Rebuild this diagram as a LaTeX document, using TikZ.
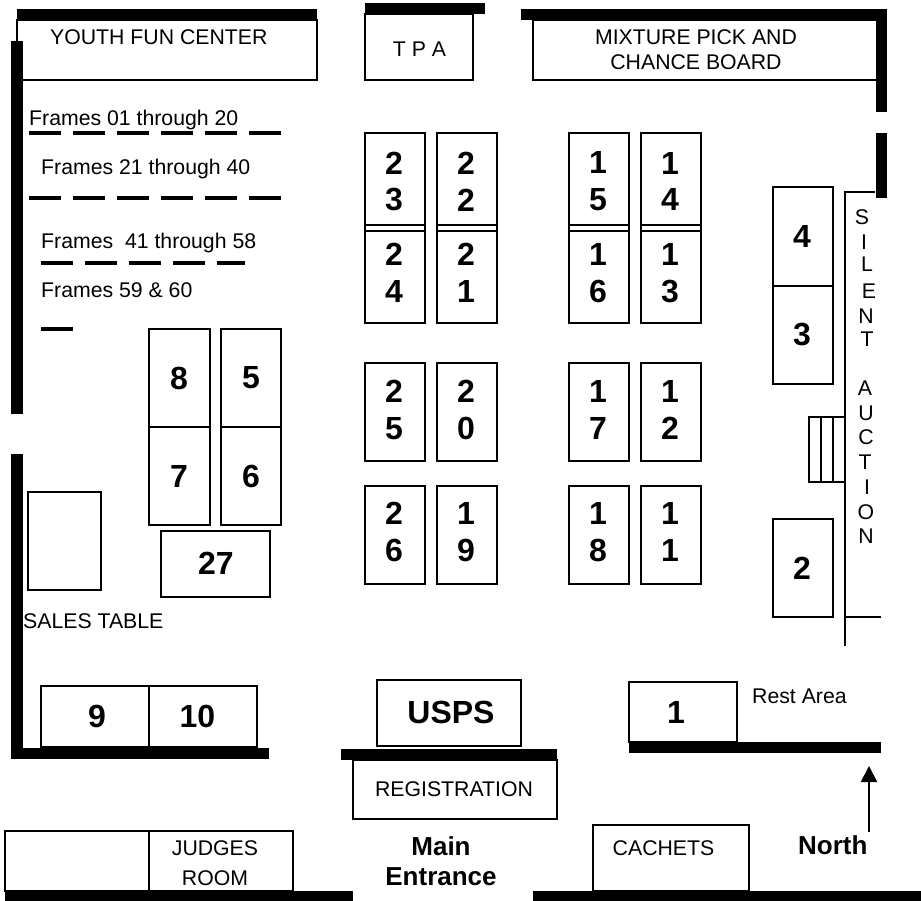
\documentclass[tikz,border=0pt]{standalone}
\usepackage{fontspec}
\setmainfont{Liberation Sans}
\usetikzlibrary{arrows.meta}
\tikzset{
  booth/.style={rectangle, draw, line width=2pt, inner sep=0pt, outer sep=0pt},
  boothtext/.style={inner sep=0pt, align=center, font=\fontsize{32}{36.7}\selectfont\bfseries},
  room/.style={rectangle, draw, line width=1.6pt, inner sep=0pt},
  wall/.style={line width=11pt},
  frameline/.style={line width=4pt},
  tag/.style={inner sep=0pt, font=\fontsize{21.25}{25}\selectfont},
  bigtag/.style={inner sep=0pt, align=center, font=\fontsize{26}{31}\selectfont\bfseries},
}
\begin{document}
\begin{tikzpicture}[x=1pt, y=-1pt]
  \useasboundingbox (0,0) rectangle (921,901);

  % Rooms along the top
  \node[room, minimum width=300, minimum height=60] (youth) at (167,50) {};
  \node[tag, anchor=base west] (youthtext) at (50,45) {YOUTH FUN CENTER};
  \node[room, line width=2pt, minimum width=108, minimum height=66] (tpa) at (419,47) {};
  \node[tag, anchor=base] (tpatext) at (419.5,57) {T P A};
  \node[room, minimum width=348, minimum height=60] (mixture) at (707,50) {};
  \node[tag, anchor=base] (mixtext) at (696,45) {MIXTURE PICK AND};
  \node[tag, anchor=base] (chancetext) at (696,70) {CHANCE BOARD};

  % Frame lines
  \foreach \ya in {133,198}
    \foreach \xa in {29,73,117,161,205,249}
      \draw[frameline] (\xa,\ya) -- +(32,0);
  \foreach \xa/\xb in {41/73,85/117,129/161,173/205,217/245}
    \draw[frameline] (\xa,263) -- (\xb,263);
  \draw[frameline] (41,329) -- (73,329);
  \node[tag, anchor=base west] (frames1) at (29,125.5) {Frames 01 through 20};
  \node[tag, anchor=base west] (frames2) at (41,175) {Frames 21 through 40};
  \node[tag, anchor=base west] (frames3) at (41,249) {Frames\ \ 41 through 58};
  \node[tag, anchor=base west] (frames4) at (41,298) {Frames 59 \& 60};

  % Stacked frame booths
  \foreach \name/\cx/\cy/\hgt in {
      b23/395/179/92, b24/395/277/92, b22/467/179/92, b21/467/277/92,
      b15/599/179/92, b16/599/277/92, b14/671/179/92, b13/671/277/92,
      b25/395/412/98, b26/395/535/98, b20/467/412/98, b19/467/535/98,
      b17/599/412/98, b18/599/535/98, b12/671/412/98, b11/671/535/98}
    \node[booth, minimum width=60, minimum height=\hgt] (\name) at (\cx,\cy) {};
  \foreach \upper/\lower in {b23/b24, b22/b21, b15/b16, b14/b13} {
    \draw[line width=2pt] (\upper.south west) -- (\lower.north west);
    \draw[line width=2pt] (\upper.south east) -- (\lower.north east);
  }
  \foreach \name/\cx/\cy/\txt in {
      t23/394/181.5/2\\3, t24/394/273/2\\4,
      t22/466/181.5/2\\2, t21/466/273/2\\1,
      t15/598/181.5/1\\5, t16/598/273/1\\6,
      t14/670/181.5/1\\4, t13/670/273/1\\3,
      t25/394/410/2\\5, t26/394/532/2\\6,
      t20/466/410/2\\0, t19/466/532/1\\9,
      t17/598/410/1\\7, t18/598/532/1\\8,
      t12/670/410/1\\2, t11/670/532/1\\1}
    \node[boothtext] (\name) at (\cx,\cy) {\txt};

  % Single number booths
  \foreach \name/\cx/\cy/\wid/\hgt in {
      b8/179.5/378/61/98, b7/179.5/476/61/98,
      b5/251/378/60/98, b6/251/476/60/98,
      b27/215.5/564/109/66,
      b4/803/236.5/60/99, b3/803/335/60/98, b2/803/568/60/98,
      b1/683/712/108/60,
      usps/449/713/144/66}
    \node[booth, minimum width=\wid, minimum height=\hgt] (\name) at (\cx,\cy) {};
  \foreach \name/\cx/\cy in {b9/95/716.5, b10/203/716.5}
    \node[booth, line width=1.6pt, minimum width=108, minimum height=61] (\name) at (\cx,\cy) {};
  \foreach \name/\cx/\cy/\txt in {
      t8/179/378/8, t7/179/476/7, t5/251/378/5, t6/251/476/6, t27/216/563/27,
      t4/802/236/4, t3/802/335/3, t2/802/568/2, t1/676/712/1,
      t9/97/716.5/9, t10/197.5/716.5/10, tusps/451/712.5/USPS}
    \node[boothtext] (\name) at (\cx,\cy) {\txt};

  % Side tables and rooms along the bottom
  \node[room, line width=2pt, minimum width=73, minimum height=98] (sales) at (64.5,541) {};
  \node[tag, anchor=base west] (salestext) at (23,628) {SALES TABLE};
  \node[room, line width=2pt, minimum width=204, minimum height=59] (registration) at (455,789.5) {};
  \node[tag, anchor=base] (registrationtext) at (454,796) {REGISTRATION};
  \node[room, minimum width=144, minimum height=60] (spare) at (77,861) {};
  \node[room, minimum width=144, minimum height=60] (judges) at (221,861) {};
  \node[tag, anchor=base] (judgestext1) at (215,855) {JUDGES};
  \node[tag, anchor=base] (judgestext2) at (215,885) {ROOM};
  \node[room, minimum width=156, minimum height=66] (cachets) at (671,858) {};
  \node[tag, anchor=base] (cachetstext) at (663.5,855) {CACHETS};
  \node[tag, anchor=base west] (resttext) at (752,703) {Rest Area};
  \node[bigtag, anchor=base] (maintext) at (441,855) {Main};
  \node[bigtag, anchor=base] (entrancetext) at (441,885.5) {Entrance};
  \node[bigtag, anchor=base west] (northtext) at (798,854) {North};

  % Silent auction
  \draw[line width=2pt] (875,192) -- (845,192) -- (845,646);
  \draw[line width=2pt] (845,617) -- (881,617);
  \draw[line width=2pt] (845,417) -- (809,417) -- (809,482) -- (845,482);
  \draw[line width=2pt] (821,417) -- (821,482);
  \draw[line width=2pt] (833,417) -- (833,482);
  \foreach \cx/\cy/\txt in {862/217/S, 864/242/I, 867/264/L, 869/291/E, 866/316/N, 867/339/T,
      865/388/A, 866/413/U, 866/437/C, 865/462/T, 867/487/I, 866/512/O, 866/536/N}
    \node[tag] at (\cx,\cy) {\txt};

  % North arrow
  \coordinate (arrowfoot) at (869,832);
  \coordinate (arrowtip) at (869,766);
  \draw[line width=2pt, -{Triangle[width=16pt, length=16pt]}] (arrowfoot) -- (arrowtip);

  % Walls
  \draw[wall] (17,14.5) -- (317,14.5);
  \draw[wall] (365,8.5) -- (485,8.5);
  \draw[wall] (521,14.5) -- (887,14.5);
  \draw[wall] (881,9) -- (881,112.5);
  \draw[wall] (881,133) -- (881,198);
  \draw[wall, line width=12pt] (17,41) -- (17,414);
  \draw[wall, line width=12pt] (17,454) -- (17,758);
  \draw[wall] (11,753) -- (269,753);
  \draw[wall] (341,754) -- (557,754);
  \draw[wall] (629,747.5) -- (881,747.5);
  \draw[wall] (5,896) -- (353,896);
  \draw[wall] (533,896) -- (921,896);
\end{tikzpicture}
\end{document}
